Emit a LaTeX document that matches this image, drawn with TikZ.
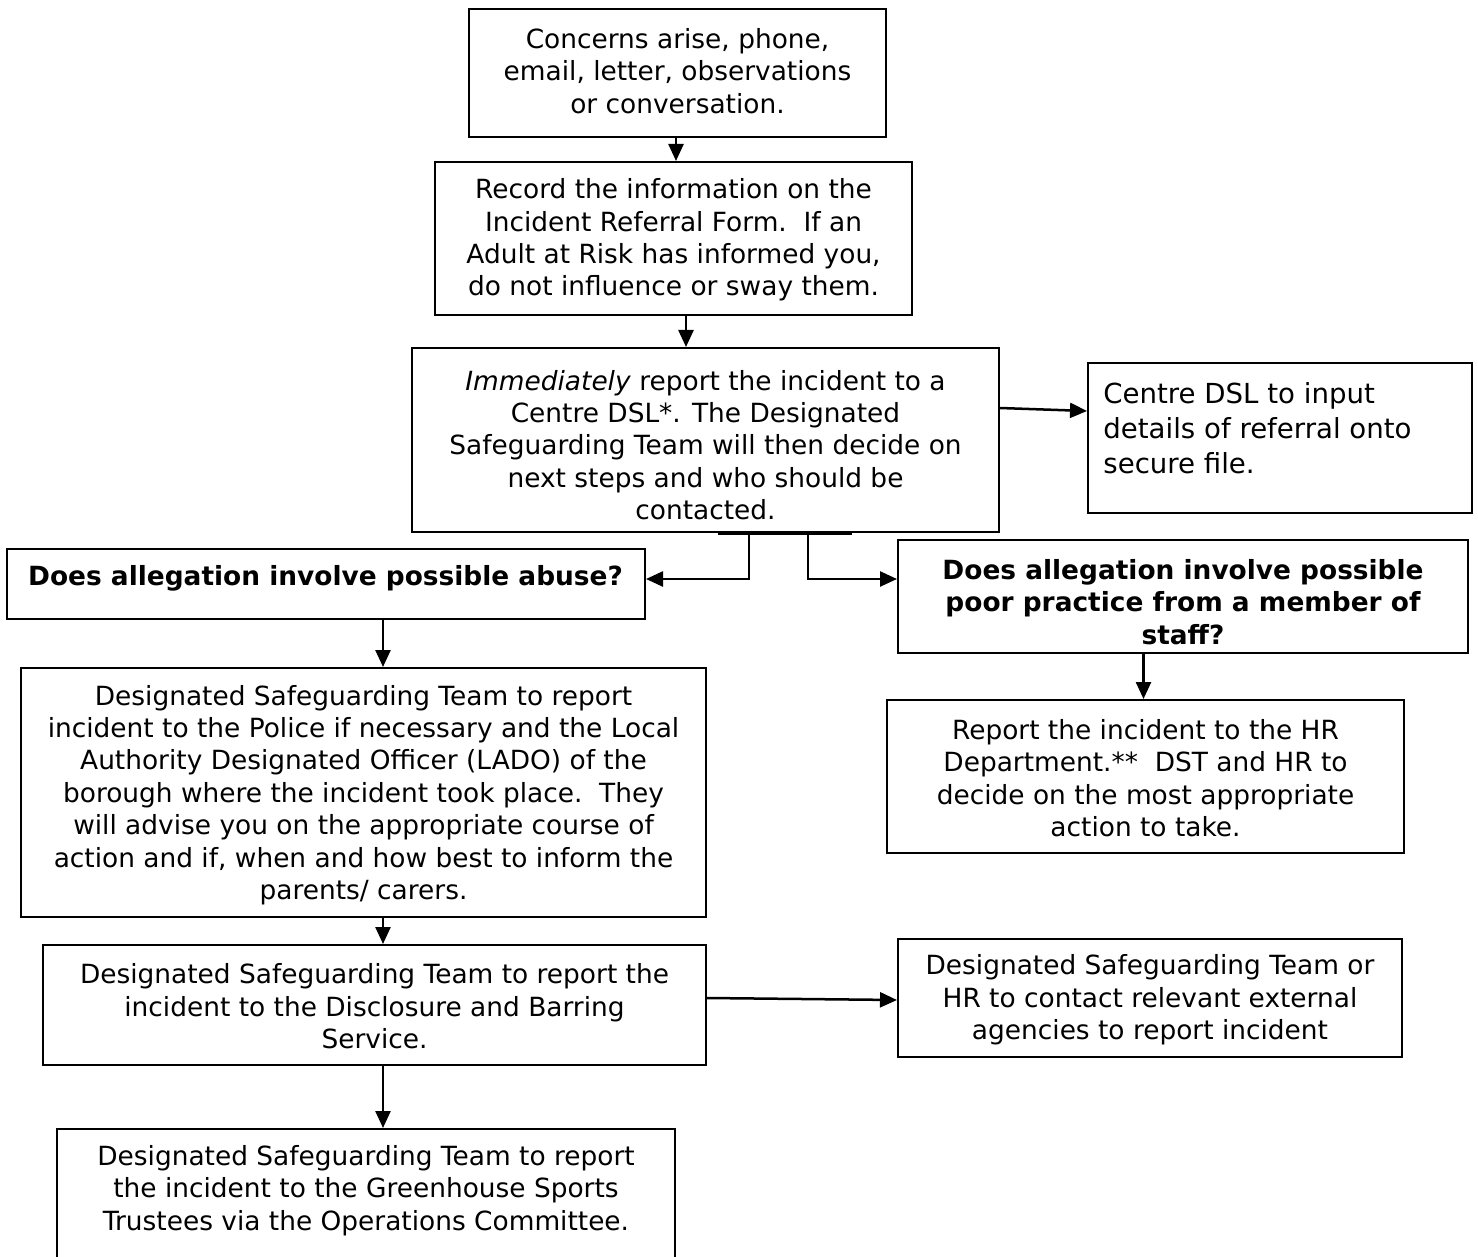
\documentclass[tikz,border=0pt]{standalone}
\usepackage{fontspec}
\setmainfont{DejaVu Sans}
\usetikzlibrary{arrows.meta,calc,fit}
\begin{document}
\begin{tikzpicture}[x=0.5pt,y=-0.5pt,
  box/.style={draw=black, line width=1pt, inner sep=0pt},
  txt/.style={align=center, inner sep=0pt, font=\fontsize{13.2}{16.2}\selectfont},
  btxt/.style={txt, font=\fontsize{13.2}{16.2}\selectfont\bfseries},
  arr/.style={line width=1.25pt, -{Triangle[length=8.5pt,width=7.5pt]}},
  seg/.style={line width=1.6pt}
]
\fill[white] (0,0) rectangle (1478,1257);
\useasboundingbox (0,0) rectangle (1478,1257);

% boxes
\node[box, fit={(469,9) (886,137)}] (A) {};
\node[box, fit={(435,162) (912,315)}] (B) {};
\node[box, fit={(412,348) (999,532)}] (C) {};
\node[box, fit={(1088,363) (1472,513)}] (D) {};
\node[box, fit={(7,549) (645,619)}] (E) {};
\node[box, fit={(898,540) (1468,653)}] (F) {};
\node[box, fit={(21,668) (706,917)}] (G) {};
\node[box, fit={(887,700) (1404,853)}] (H) {};
\node[box, fit={(43,945) (706,1065)}] (I) {};
\node[box, fit={(898,939) (1402,1057)}] (J) {};
\node[box, fit={(57,1129) (675,1263)}] (K) {};

% texts
\node[txt] (At) at (677.5,71) {Concerns arise, phone,\\email, letter, observations\\or conversation.};
\node[txt] (Bt) at (673.5,240) {Record the information on the\\Incident Referral Form.\ \ If an\\Adult at Risk has informed you,\\do not influence or sway them.};
\node[txt] (Ct) at (705.5,445) {\textit{Immediately} report the incident to a\\Centre DSL*. The Designated\\Safeguarding Team will then decide on\\next steps and who should be\\contacted.};
\node[txt, align=left, anchor=west, font=\fontsize{13.8}{17.5}\selectfont] (Dt) at (1103,428) {Centre DSL to input\\details of referral onto\\secure file.};
\node[btxt] (Et) at (325.5,578) {Does allegation involve possible abuse?};
\node[btxt] (Ft) at (1183,602) {Does allegation involve possible\\poor practice from a member of\\staff?};
\node[txt] (Gt) at (363.5,795) {Designated Safeguarding Team to report\\incident to the Police if necessary and the Local\\Authority Designated Officer (LADO) of the\\borough where the incident took place.\ \ They\\will advise you on the appropriate course of\\action and if, when and how best to inform the\\parents/ carers.};
\node[txt] (Ht) at (1145.5,778) {Report the incident to the HR\\Department.**\ \ DST and HR to\\decide on the most appropriate\\action to take.};
\node[txt] (It) at (374.5,1006.5) {Designated Safeguarding Team to report the\\incident to the Disclosure and Barring\\Service.};
\node[txt] (Jt) at (1150,1000) {Designated Safeguarding Team or\\HR to contact relevant external\\agencies to report incident};
\node[txt] (Kt) at (366,1190.5) {Designated Safeguarding Team to report\\the incident to the Greenhouse Sports\\Trustees via the Operations Committee.};

% connectors
\coordinate (a1) at ($(A.south)+(-1.5,0)$);
\draw[arr] (a1) -- (a1 |- B.north);
\coordinate (b1) at ($(B.south)+(12.5,0)$);
\draw[arr] (b1) -- (b1 |- C.north);
\draw[arr] ($(C.east)+(0,-32)$) -- ($(D.west)+(0,-27)$);
\draw[seg] ($(C.south)+(12.5,0)$) -- ($(C.south)+(146.5,0)$);
\coordinate (c1) at ($(C.south)+(43.5,0)$);
\coordinate (c2) at ($(C.south)+(102.5,0)$);
\draw[arr] (c1) |- ($(E.east)+(0,-5)$);
\draw[arr] (c2) |- ($(F.west)+(0,-17.5)$);
\coordinate (e1) at ($(E.south)+(57,0)$);
\draw[arr] (e1) -- (e1 |- G.north);
\coordinate (f1) at ($(F.south)+(-39.5,0)$);
\draw[arr] (f1) -- (f1 |- H.north);
\coordinate (g1) at ($(G.south)+(19.5,0)$);
\draw[arr] (g1) -- (g1 |- I.north);
\draw[arr] ($(I.east)+(0,-7)$) -- ($(J.west)+(0,2)$);
\coordinate (i1) at ($(I.south)+(8.5,0)$);
\draw[arr] (i1) -- (i1 |- K.north);
\end{tikzpicture}
\end{document}
